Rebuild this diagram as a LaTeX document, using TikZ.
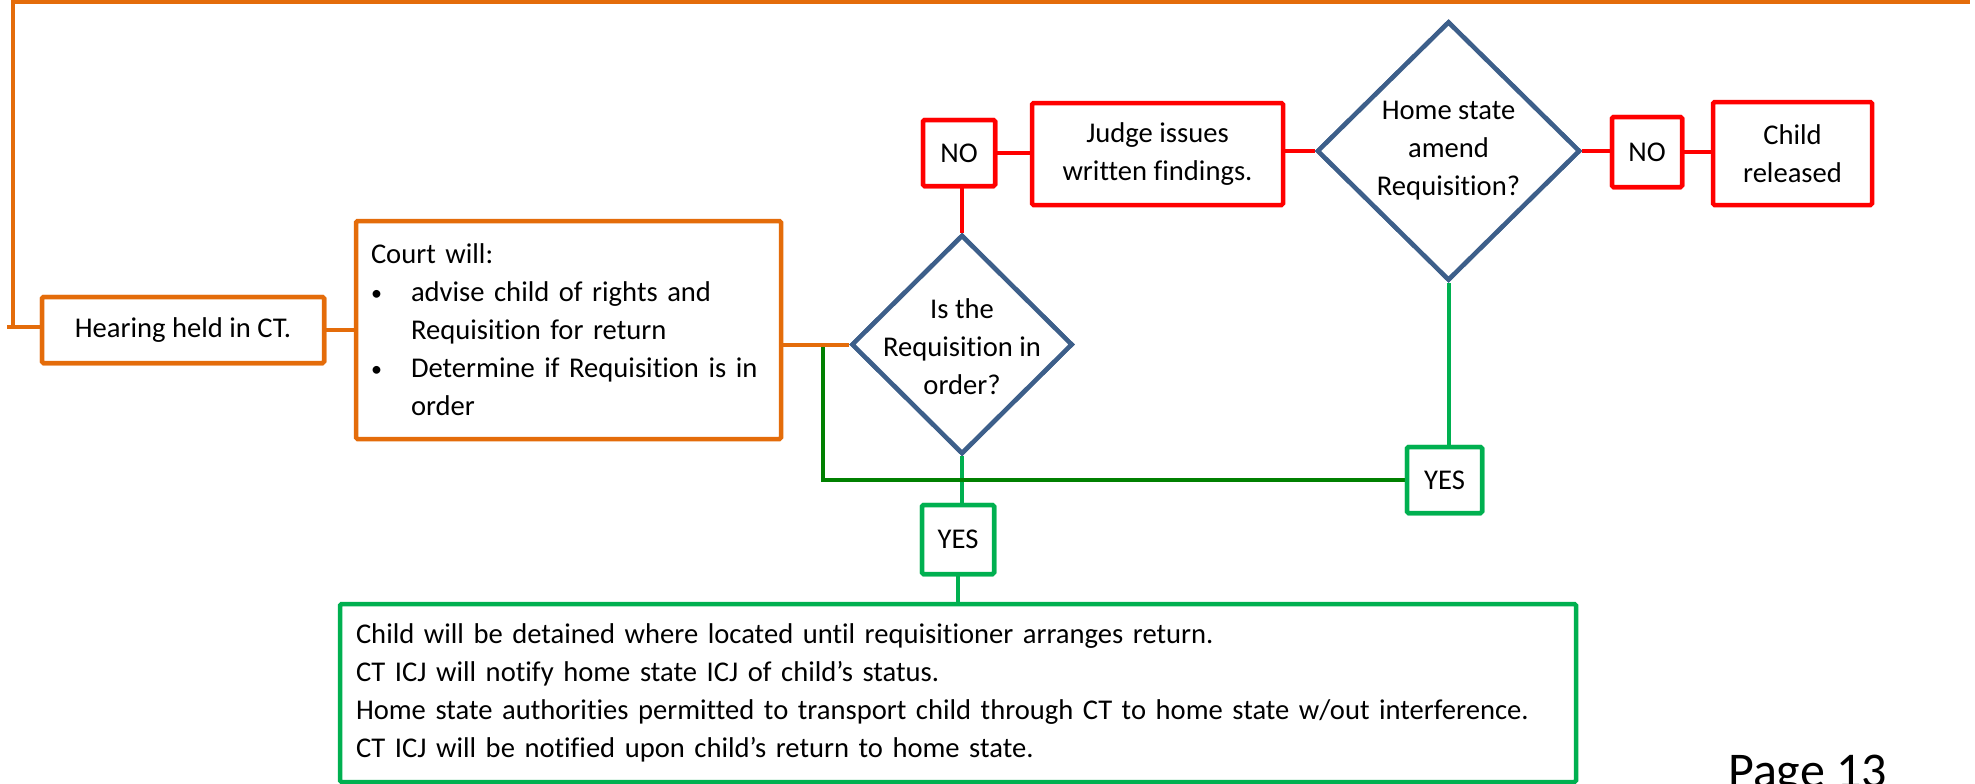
\documentclass[tikz,border=0pt]{standalone}
\usepackage{fontspec}
\setmainfont{Carlito}[Ligatures=CommonOff,RawFeature={-liga;-clig;-dlig}]
\usetikzlibrary{shapes.geometric,calc}
\definecolor{corange}{HTML}{E46C0A}
\definecolor{cred}{HTML}{FF0000}
\definecolor{cblue}{HTML}{3D5F8A}
\definecolor{cgreen}{HTML}{00B050}
\definecolor{cdkgreen}{HTML}{008000}
\newcommand{\mybul}{\makebox[40pt][l]{\raisebox{1pt}{\fontsize{22}{22}\selectfont •}}}
\begin{document}
\begin{tikzpicture}[x=1pt,y=-1pt,font=\fontsize{28.6}{38}\selectfont,
  box/.style={draw, line width=4.5pt, fill=white, inner sep=0pt, rounded corners=1.5pt, align=center},
  obox/.style={box, draw=corange},
  rbox/.style={box, draw=cred},
  gbox/.style={box, draw=cgreen},
  dia/.style={draw=cblue, line width=4.5pt, shape=diamond, inner sep=0pt, fill=white},
  conn/.style={line width=4pt},
  oline/.style={conn, draw=corange},
  rline/.style={conn, draw=cred},
  gline/.style={conn, draw=cgreen},
  dgline/.style={conn, draw=cdkgreen}]
\useasboundingbox (0,0) rectangle (1975,784);
\fill[white] (0,0) rectangle (1975,784);

% coordinates for free ends
\coordinate (stub) at (7,327);
\coordinate (tl) at (12.5,2);
\coordinate (tr) at (1970,2);
\coordinate (gsplit) at (823,347);

% nodes
\node[obox, minimum width=282, minimum height=66] (hear) at (183,330) {Hearing held in CT.};
\node[obox, minimum width=425, minimum height=218, text width=395pt, inner xsep=15pt, align=left] (court) at (568.5,330)
  {Court will:\\
   \mybul advise child of rights and\\
   \hspace*{40pt}Requisition for return\\
   \mybul Determine if Requisition is in\\
   \hspace*{40pt}order};
\node[dia, minimum width=221, minimum height=219] (d1) at (962,344.5) {};
\node[rbox, minimum width=72, minimum height=66] (no1) at (959,153) {NO};
\node[rbox, minimum width=251, minimum height=102] (judge) at (1157.5,154) {Judge issues\\written findings.};
\node[dia, minimum width=263, minimum height=259] (d2) at (1448.5,151) {};
\node[rbox, minimum width=70, minimum height=70] (no2) at (1647,152) {NO};
\node[rbox, minimum width=159, minimum height=103] (child) at (1792.5,153.5) {Child\\released};
\node[gbox, minimum width=72, minimum height=69] (yes1) at (958,539.5) {YES};
\node[gbox, minimum width=75, minimum height=66] (yes2) at (1444.5,480) {YES};
\node[gbox, minimum width=1236, minimum height=178, text width=1204pt, inner xsep=16pt, align=left] (act) at (958,693)
  {Child will be detained where located until requisitioner arranges return.\\
   CT ICJ will notify home state ICJ of child’s status.\\
   Home state authorities permitted to transport child through CT to home state w/out interference.\\
   CT ICJ will be notified upon child’s return to home state.};
\node[anchor=base west, inner sep=0pt, font=\fontsize{50}{60}\selectfont] (page) at (1728,787) {Page 13};

% connectors
\draw[gline] (d1.south) -- (d1.south |- yes1.north);
\draw[gline] (yes1.south) -- (yes1.south |- act.north);
\draw[gline] (d2.south) -- (d2.south |- yes2.north);
\draw[dgline] (gsplit) |- (yes2.west);
\draw[oline] (stub) -- (stub -| hear.west);
\draw[oline] (stub -| tl) -- (tl) -- (tr);
\draw[oline] (hear.east) -- (hear.east -| court.west);
\draw[oline] (d1.west -| court.east) -- (d1.west);
\draw[rline] (d1.north) -- (d1.north |- no1.south);
\draw[rline] (no1.east) -- (no1.east -| judge.west);
\draw[rline] (d2.west -| judge.east) -- (d2.west);
\draw[rline] (d2.east) -- (d2.east -| no2.west);
\draw[rline] (no2.east) -- (no2.east -| child.west);

% redraw shapes on top of connectors
\node[dia, minimum width=221, minimum height=219] at (d1) {};
\node[dia, minimum width=263, minimum height=259] at (d2) {};
\node[align=center] (t1) at (962,347) {Is the\\Requisition in\\order?};
\node[align=center] (t2) at (1448.5,151) {Home state\\amend\\Requisition?};
\node[obox, minimum width=282, minimum height=66] at (hear) {Hearing held in CT.};
\node[gbox, minimum width=72, minimum height=69] at (yes1) {YES};
\node[gbox, minimum width=75, minimum height=66] at (yes2) {YES};
\node[rbox, minimum width=72, minimum height=66] at (no1) {NO};
\node[rbox, minimum width=70, minimum height=70] at (no2) {NO};
\end{tikzpicture}
\end{document}
